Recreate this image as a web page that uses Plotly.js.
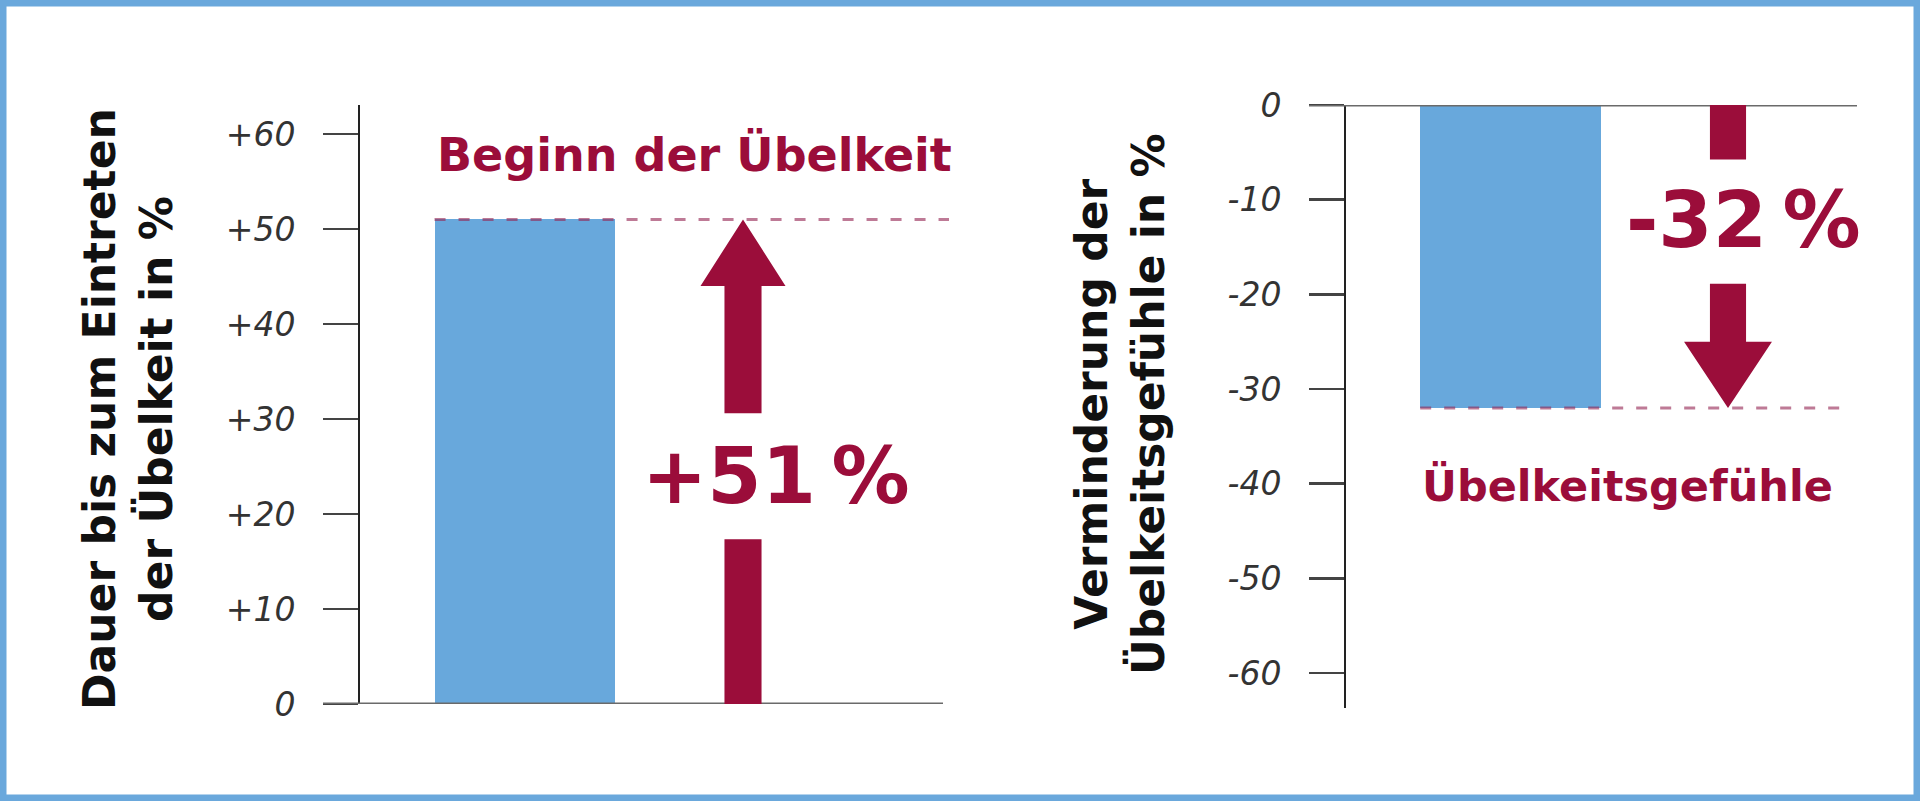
<!DOCTYPE html>
<html><head><meta charset="utf-8">
<script src="https://cdn.plot.ly/plotly-3.0.1.min.js"></script>
<style>html,body{margin:0;padding:0;background:#fff;overflow:hidden;}#chart{width:1920px;height:801px;}</style>
</head><body><div id="chart"></div>
<script>
// ---- data ----
const panelLabels = ["Beginn der Übelkeit", "Übelkeitsgefühle"];
const changeValues = [51, -32];
const changeLabels = ["+51\u2009%", "-32\u2009%"];
const yTitles = ["Dauer bis zum Eintreten<br>der Übelkeit in %", "Verminderung der<br>Übelkeitsgefühle in %"];
const leftTickVals = [0, 10, 20, 30, 40, 50, 60];
const leftTickText = ["0", "+10", "+20", "+30", "+40", "+50", "+60"];
const rightTickVals = [0, -10, -20, -30, -40, -50, -60];
const rightTickText = ["0", "-10", "-20", "-30", "-40", "-50", "-60"];

// ---- style ----
const W = 1920, H = 801;
const px = x => x / W;
const py = y => 1 - y / H;
const BLUE = "#68a8dc";
const RED = "#9b0d3a";
const DASH = "rgba(150,40,85,0.62)";
const FONT = "DejaVu Sans";
const barW = 0.83;

const tickFont = {family: FONT, size: 33, color: "#333", style: "italic"};
const boldFont = (s, c) => ({family: FONT, size: s, color: c, weight: "bold"});

function arrowPath(v, gapLo, gapHi, shaftHalf, headHalf, headLen) {
  const s = Math.sign(v);
  const xc = 1;
  const y1 = gapLo * v, y2 = gapHi * v, yb = v - s * headLen;
  const a = xc - shaftHalf, b = xc + shaftHalf;
  let p = `M${a},0 L${b},0 L${b},${y1} L${a},${y1} Z `;
  p += `M${a},${y2} L${b},${y2} L${b},${yb} L${xc + headHalf},${yb} L${xc},${v} L${xc - headHalf},${yb} L${a},${yb} Z`;
  return p;
}

const traces = [
  {type: "bar", x: [0], y: [changeValues[0]], width: barW, marker: {color: BLUE, line: {width: 0}},
   xaxis: "x", yaxis: "y", hoverinfo: "skip"},
  {type: "bar", x: [0], y: [changeValues[1]], width: barW, marker: {color: BLUE, line: {width: 0}},
   xaxis: "x2", yaxis: "y2", hoverinfo: "skip"}
];

const shapes = [
  // frame
  {type: "rect", xref: "paper", yref: "paper", x0: 0, x1: 1, y0: 0, y1: 1,
   line: {color: "#6aa8dc", width: 13}, layer: "above"},
  // zero lines
  {type: "line", xref: "paper", yref: "y", x0: px(323), x1: px(943), y0: 0, y1: 0,
   line: {color: "#6a6a6a", width: 3}, layer: "above"},
  {type: "line", xref: "paper", yref: "y2", x0: px(1309), x1: px(1857), y0: 0, y1: 0,
   line: {color: "#6a6a6a", width: 3}, layer: "above"},
  // dashed reference lines
  {type: "line", xref: "x", yref: "y", x0: -barW / 2, x1: 1.95, y0: changeValues[0], y1: changeValues[0],
   line: {color: DASH, width: 3, dash: "11px,13px"}, layer: "above"},
  {type: "line", xref: "x2", yref: "y2", x0: -barW / 2, x1: 1.57, y0: changeValues[1], y1: changeValues[1],
   line: {color: DASH, width: 3, dash: "11px,13px"}, layer: "above"},
  // arrows
  {type: "path", xref: "x", yref: "y", path: arrowPath(changeValues[0], 0.34, 0.60, 0.085, 0.195, 7),
   fillcolor: RED, line: {width: 0}, layer: "above"},
  {type: "path", xref: "x2", yref: "y2", path: arrowPath(changeValues[1], 0.18, 0.59, 0.083, 0.202, 7),
   fillcolor: RED, line: {width: 0}, layer: "above"}
];

const annotations = [
  {xref: "paper", yref: "paper", x: px(128), y: py(409), text: yTitles[0], textangle: -90,
   showarrow: false, font: boldFont(44, "#111"), xanchor: "center", yanchor: "middle"},
  {xref: "paper", yref: "paper", x: px(1120), y: py(404), text: yTitles[1], textangle: -90,
   showarrow: false, font: boldFont(44, "#111"), xanchor: "center", yanchor: "middle"},
  {xref: "x", yref: "y", x: -barW / 2, y: 57.8, text: panelLabels[0], showarrow: false,
   xanchor: "left", yanchor: "middle", font: boldFont(46, RED)},
  {xref: "x2", yref: "y2", x: -barW / 2, y: -40.3, text: panelLabels[1], showarrow: false,
   xanchor: "left", yanchor: "middle", font: boldFont(43, RED)},
  {xref: "x", yref: "y", x: 1.15, y: 0.47 * changeValues[0], text: changeLabels[0], showarrow: false,
   xanchor: "center", yanchor: "middle", font: boldFont(78, RED)},
  {xref: "x2", yref: "y2", x: 1.07, y: 0.38 * changeValues[1], text: changeLabels[1], showarrow: false,
   xanchor: "center", yanchor: "middle", font: boldFont(78, RED)}
];

const yCommon = {ticks: "outside", ticklen: 35, tickwidth: 2.5, tickcolor: "#444",
  showline: true, linecolor: "#222", linewidth: 2, showgrid: false, zeroline: false,
  tickfont: tickFont, ticklabelstandoff: 21, fixedrange: true};

const layout = {
  width: W, height: H, margin: {l: 0, r: 0, t: 0, b: 0, pad: 0},
  paper_bgcolor: "#ffffff", plot_bgcolor: "rgba(0,0,0,0)",
  showlegend: false, bargap: 0,
  xaxis: {domain: [px(360), px(949)], range: [-0.757, 1.945], visible: false, fixedrange: true},
  yaxis: Object.assign({}, yCommon, {domain: [py(704), py(105)], range: [0, 63.05],
    tickmode: "array", tickvals: leftTickVals, ticktext: leftTickText}),
  xaxis2: {domain: [px(1346), px(1857)], range: [-0.756, 1.593], visible: false, fixedrange: true, anchor: "y2"},
  yaxis2: Object.assign({}, yCommon, {domain: [py(708), py(105)], range: [-63.7, 0], anchor: "x2",
    tickmode: "array", tickvals: rightTickVals, ticktext: rightTickText}),
  shapes: shapes,
  annotations: annotations
};

Plotly.newPlot("chart", traces, layout, {staticPlot: true, displayModeBar: false});
</script>
</body></html>
